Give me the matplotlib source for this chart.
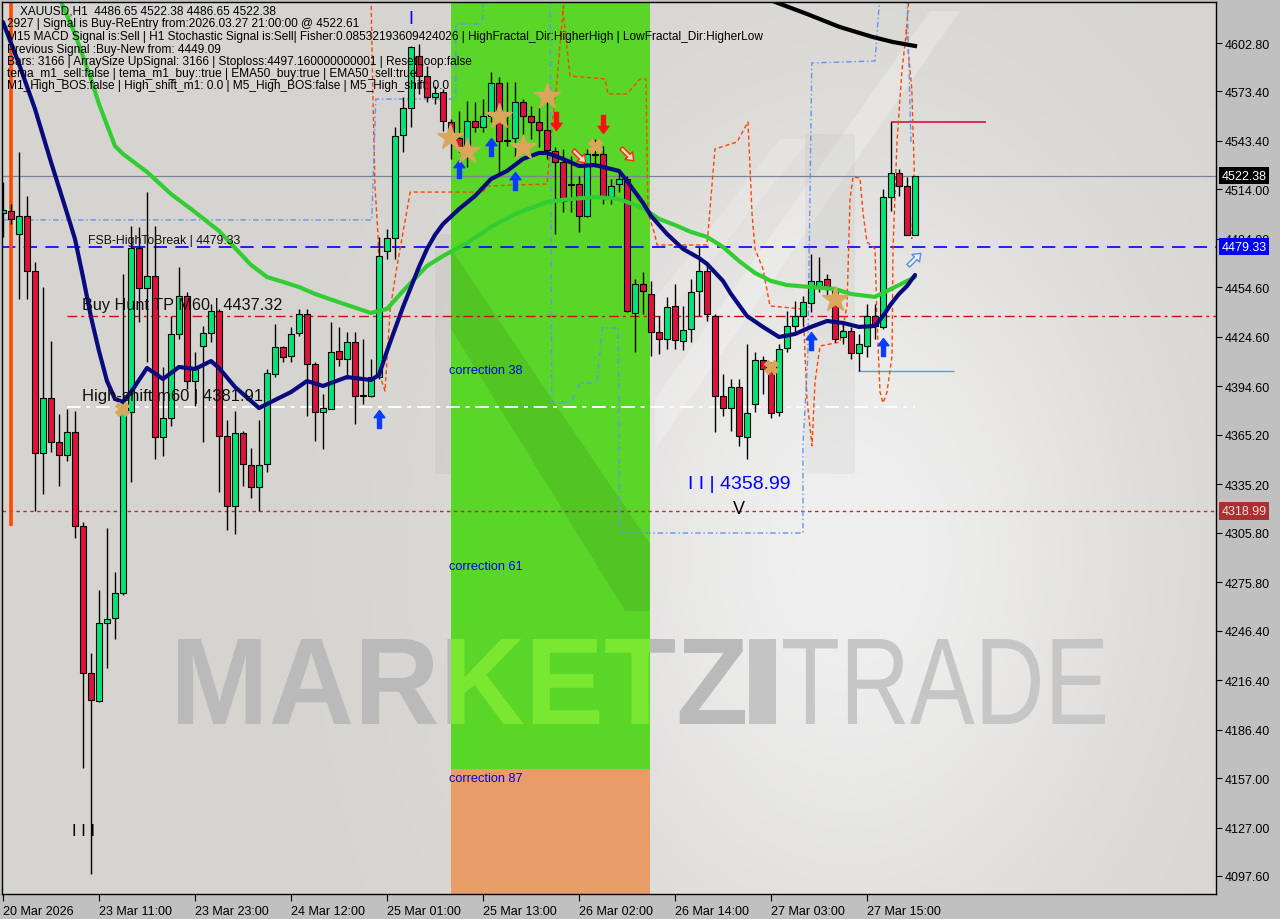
import numpy as np
import matplotlib
matplotlib.use("Agg")
import matplotlib.pyplot as plt
from matplotlib.path import Path
from matplotlib.patches import Rectangle, Polygon, PathPatch
from matplotlib.textpath import TextPath
from matplotlib.font_manager import FontProperties
from matplotlib.transforms import Affine2D

# ---------------- data ----------------
opens = [4499.7, 4500.9, 4487.0, 4497.9, 4464.5, 4354.1, 4387.5, 4360.8, 4352.9, 4366.9,
         4309.9, 4220.7, 4203.7, 4251.0, 4254.1, 4269.2, 4379.0, 4478.5, 4454.2, 4461.5,
         4363.9, 4375.4, 4426.3, 4449.4, 4397.8, 4419.0, 4426.9, 4440.3, 4364.5, 4322.0,
         4366.3, 4346.9, 4333.5, 4347.5, 4402.1, 4418.4, 4413.0, 4426.9, 4438.5, 4408.1,
         4379.0, 4380.8, 4416.0, 4411.2, 4421.5, 4388.7, 4388.7, 4400.2, 4476.7, 4484.5,
         4547.0, 4563.4, 4594.9, 4582.8, 4570.1, 4573.1, 4554.9, 4545.2, 4539.1, 4555.5,
         4551.9, 4558.5, 4578.6, 4543.4, 4545.2, 4567.0, 4558.5, 4554.9, 4550.0, 4537.3,
         4530.6, 4517.3, 4517.3, 4497.9, 4535.5, 4535.5, 4509.4, 4517.3, 4520.3, 4439.1,
         4456.6, 4450.6, 4427.5, 4423.3, 4443.3, 4422.1, 4429.4, 4452.4, 4464.5, 4437.2,
         4388.7, 4381.4, 4394.2, 4363.9, 4383.9, 4410.6, 4406.3, 4379.0, 4417.8, 4431.2,
         4437.2, 4445.1, 4455.4, 4459.7, 4452.4, 4424.5, 4428.1, 4414.8, 4419.0, 4437.2,
         4430.6, 4509.4, 4524.0, 4516.1, 4486.65]
highs = [4518.5, 4505.2, 4536.7, 4510.0, 4470.0, 4454.8, 4422.1, 4377.8, 4380.8, 4379.6,
         4312.0, 4232.8, 4271.1, 4308.7, 4282.0, 4462.7, 4491.8, 4491.2, 4512.4, 4491.8,
         4406.3, 4437.2, 4467.0, 4451.8, 4415.4, 4431.2, 4444.5, 4441.5, 4374.2, 4379.6,
         4367.5, 4357.2, 4374.2, 4405.1, 4432.4, 4419.0, 4430.6, 4441.5, 4441.5, 4409.3,
         4389.9, 4433.6, 4430.6, 4427.5, 4427.5, 4423.3, 4411.2, 4485.2, 4490.0, 4551.9,
         4570.1, 4601.0, 4602.2, 4588.9, 4576.7, 4574.9, 4556.7, 4561.6, 4567.6, 4567.0,
         4568.9, 4585.2, 4582.2, 4579.2, 4579.2, 4568.9, 4564.6, 4563.4, 4570.1, 4539.7,
         4538.5, 4534.3, 4522.1, 4538.5, 4544.6, 4540.3, 4520.3, 4526.4, 4522.1, 4459.7,
         4463.9, 4458.5, 4437.2, 4448.8, 4456.6, 4443.3, 4459.7, 4479.1, 4470.0, 4438.5,
         4402.1, 4399.0, 4399.0, 4420.3, 4415.4, 4413.0, 4409.3, 4420.3, 4440.3, 4446.3,
         4449.4, 4474.8, 4473.0, 4462.7, 4454.8, 4434.2, 4430.6, 4426.3, 4444.5, 4444.5,
         4514.3, 4554.9, 4526.4, 4521.5, 4522.38]
lows = [4485.2, 4493.0, 4447.6, 4447.6, 4319.0, 4329.3, 4354.8, 4334.1, 4349.3, 4302.6,
        4163.1, 4098.8, 4203.1, 4223.8, 4241.3, 4268.0, 4336.6, 4433.6, 4409.3, 4350.5,
        4352.3, 4370.5, 4423.3, 4393.0, 4382.7, 4360.8, 4421.5, 4330.5, 4307.4, 4305.0,
        4334.1, 4326.9, 4319.0, 4342.6, 4400.2, 4409.3, 4409.3, 4425.1, 4376.6, 4361.4,
        4356.6, 4380.8, 4406.9, 4399.0, 4371.7, 4383.9, 4388.1, 4399.0, 4471.8, 4471.8,
        4536.7, 4551.9, 4571.9, 4567.0, 4565.8, 4549.4, 4532.5, 4536.7, 4527.6, 4548.8,
        4548.8, 4554.9, 4524.6, 4540.3, 4533.7, 4545.8, 4544.6, 4539.7, 4532.5, 4487.0,
        4500.3, 4500.3, 4488.2, 4497.3, 4527.6, 4505.2, 4505.2, 4512.4, 4439.7, 4415.4,
        4438.5, 4413.0, 4414.2, 4417.2, 4417.2, 4416.6, 4421.5, 4437.2, 4434.2, 4366.9,
        4376.6, 4367.5, 4358.4, 4350.5, 4379.0, 4389.9, 4375.4, 4376.6, 4415.4, 4427.5,
        4431.2, 4439.7, 4451.8, 4447.6, 4421.5, 4420.3, 4411.2, 4403.9, 4412.4, 4423.3,
        4429.4, 4500.9, 4510.0, 4486.4, 4486.65]
closes = [4501.5, 4496.1, 4497.9, 4464.5, 4354.1, 4387.5, 4360.8, 4352.9, 4366.9, 4309.9,
          4220.7, 4204.3, 4251.0, 4253.5, 4269.2, 4379.6, 4478.5, 4454.2, 4461.5, 4363.9,
          4375.4, 4426.3, 4449.4, 4397.8, 4406.3, 4426.9, 4440.3, 4364.5, 4322.0, 4366.3,
          4347.5, 4333.5, 4346.9, 4402.7, 4418.4, 4412.4, 4426.3, 4438.5, 4408.1, 4379.0,
          4381.4, 4415.4, 4411.2, 4421.5, 4388.7, 4389.3, 4400.2, 4473.6, 4484.5, 4546.4,
          4563.4, 4600.4, 4582.8, 4570.1, 4572.5, 4555.5, 4545.2, 4539.1, 4555.5, 4551.9,
          4558.5, 4578.6, 4543.4, 4544.0, 4567.0, 4558.5, 4554.9, 4550.0, 4537.9, 4530.6,
          4507.0, 4516.8, 4497.9, 4535.5, 4535.0, 4509.4, 4516.1, 4520.3, 4440.3, 4456.6,
          4452.4, 4427.5, 4423.3, 4442.7, 4422.7, 4428.7, 4451.8, 4464.5, 4438.5, 4388.7,
          4381.4, 4394.2, 4364.5, 4378.4, 4410.6, 4405.1, 4378.4, 4417.2, 4431.2, 4437.2,
          4445.7, 4458.5, 4458.5, 4453.6, 4423.3, 4428.1, 4414.8, 4420.3, 4437.2, 4431.2,
          4509.4, 4524.0, 4516.1, 4486.65, 4522.38]

# fast MA (navy)
navy_idx = [0, 2, 4, 6, 8, 9, 10, 11, 12, 13, 14, 15, 16, 18, 20, 22, 24, 26, 27, 29,
            31, 32, 34, 36, 38, 40, 41, 43, 45, 46, 47, 48, 49, 50, 51, 52, 53, 54, 55, 57,
            59, 61, 63, 65, 67, 68, 70, 72, 74, 77, 78, 80, 81, 83, 85, 87, 88, 90, 91, 93,
            95, 97, 99, 101, 103, 105, 107, 109, 110, 111, 112, 113, 114]
navy_val = [4615.5, 4590.1, 4562.8, 4530.6, 4499.7, 4483.9, 4460.9, 4436.6, 4416.0, 4397.8,
            4386.9, 4385.1, 4391.1, 4405.7, 4399.0, 4406.3, 4405.1, 4409.9, 4405.7, 4394.2,
            4385.7, 4381.4, 4386.3, 4391.1, 4397.8, 4394.8, 4396.6, 4400.2, 4399.0, 4398.4,
            4401.5, 4416.0, 4429.4, 4442.7, 4454.8, 4467.0, 4477.9, 4486.4, 4493.0, 4502.1,
            4510.0, 4520.3, 4525.2, 4532.5, 4536.1, 4536.1, 4532.5, 4528.2, 4528.8, 4525.2,
            4519.1, 4505.8, 4497.9, 4487.0, 4477.9, 4472.4, 4468.8, 4458.5, 4450.6, 4437.2,
            4430.6, 4424.5, 4426.3, 4430.6, 4434.2, 4433.0, 4430.6, 4431.2, 4437.2, 4444.5,
            4450.6, 4455.4, 4462.1]
# slow MA (green)
green_idx = [7, 9, 11, 12, 14, 15, 18, 21, 24, 27, 29, 31, 33, 35, 37, 39, 43, 46, 48, 50,
             53, 55, 58, 61, 64, 68, 71, 74, 77, 80, 82, 84, 86, 88, 90, 92, 94, 96, 98, 101,
             104, 106, 109, 110, 112, 114]
green_val = [4630.7, 4608.3, 4581.0, 4565.8, 4540.3, 4535.5, 4524.6, 4511.2, 4500.3, 4488.8,
             4478.5, 4468.2, 4460.9, 4457.9, 4454.8, 4450.6, 4443.9, 4439.1, 4441.5, 4452.4,
             4467.6, 4473.6, 4481.5, 4491.2, 4499.1, 4506.4, 4508.2, 4509.4, 4508.2, 4502.7,
             4496.1, 4492.4, 4488.2, 4485.2, 4479.1, 4470.6, 4463.3, 4458.5, 4456.0, 4454.8,
             4453.6, 4450.6, 4448.8, 4451.2, 4456.0, 4460.9]
# long MA (black)
black_idx = [95, 96.5, 100.5, 104.6, 108.75, 111.25, 114]
black_val = [4631.3, 4627.7, 4620.4, 4612.5, 4606.4, 4603.4, 4601.0]

# orange dashed envelope traces
orange1_idx = [46, 46.25, 46.5, 46.9, 47.25, 47.75, 48.4, 49.25, 50.9, 60, 60.5, 68, 68.75, 69.25, 70, 70.25]
orange1_val = [4630.7, 4568.8, 4516.1, 4483.9, 4399.0, 4391.7, 4441.5, 4467.5, 4512.4, 4512.4,
               4516.1, 4517.3, 4557.9, 4579.7, 4622.8, 4630.7]
orange2_idx = [70, 70.875, 75.25, 75.625, 78, 79.625, 80.375, 80.625, 81.5, 81.75, 88, 88.375, 89,
               91.75, 93.125, 93.625, 94, 95, 95.875, 100, 100.5, 101.125, 101.5, 102.125, 104.625,
               105.5, 105.875, 106.25, 107.125, 107.5, 108, 109, 109.25, 109.625, 110, 110.5,
               111.125, 111.25, 111.75, 112.375, 112.875, 113.25]
orange2_val = [4622.8, 4582.8, 4581.0, 4571.9, 4571.9, 4581.0, 4581.0, 4499.7, 4486.4, 4480.3,
               4480.3, 4502.1, 4538.5, 4542.8, 4554.9, 4499.7, 4477.9, 4465.7, 4443.3, 4441.5,
               4386.9, 4358.4, 4397.2, 4419.0, 4421.5, 4443.3, 4508.2, 4521.5, 4520.9, 4499.7,
               4482.1, 4477.9, 4434.8, 4391.1, 4384.5, 4391.1, 4413.0, 4477.9, 4542.8, 4586.4,
               4607.7, 4630.7]
orange3_idx = [112.9, 113.6, 113.9, 113.6]
orange3_val = [4611.3, 4574.9, 4526.4, 4483.9]

# light-blue step traces
blue1_idx = [0, 46.1, 46.6, 56.6, 56.6, 59.9, 60.1]
blue1_val = [4495.5, 4495.5, 4568.8, 4568.8, 4614.3, 4614.3, 4631.0]
blue2_idx = [68.4, 68.6, 71.1, 72.1, 74.25, 74.9, 76.9, 77.1, 100, 100, 100.6, 101.1, 109, 109.6]
blue2_val = [4631.0, 4385.1, 4385.1, 4396.6, 4396.6, 4430.0, 4430.0, 4305.6, 4305.6, 4359.0,
             4413.0, 4590.7, 4591.9, 4631.0]
blue3_idx = [113, 113.5]
blue3_val = [4631.0, 4542.8]

# levels
level_current = 4522.38
level_fsb = 4479.33
level_low = 4318.99
level_tp = 4437.32
level_hshift = 4381.91
level_box_top = 4554.9
level_box_low = 4403.9
correction_87 = 4162.5

# signals
buy_arrow_idx = [47, 57, 61, 64, 101, 110]
buy_arrow_val = [4374.8, 4526.4, 4539.7, 4519.1, 4422.1, 4418.4]
sell_arrow_idx = [69.1, 75]
sell_arrow_val = [4555.5, 4553.7]
hollow_sell_idx = [72, 78]
hollow_sell_val = [4534.3, 4535.5]
hollow_buy_idx = [113.9]
hollow_buy_val = [4471.8]
star_idx = [55.9, 58, 62, 65, 68, 104]
star_val = [4545.8, 4537.3, 4558.5, 4539.7, 4570.7, 4447.5]
cross_idx = [74, 96, 14.9]
cross_val = [4540.3, 4406.3, 4380.8]

price_ticks = [4602.80, 4573.40, 4543.40, 4514.00, 4484.00, 4454.60, 4424.60, 4394.60, 4365.20,
               4335.20, 4305.80, 4275.80, 4246.40, 4216.40, 4186.40, 4157.00, 4127.00, 4097.60]
time_tick_idx = [0, 12, 24, 36, 48, 60, 72, 84, 96, 108]
time_tick_labels = ["20 Mar 2026", "23 Mar 11:00", "23 Mar 23:00", "24 Mar 12:00", "25 Mar 01:00",
                    "25 Mar 13:00", "26 Mar 02:00", "26 Mar 14:00", "27 Mar 03:00", "27 Mar 15:00"]

header_lines = [
    "XAUUSD,H1  4486.65 4522.38 4486.65 4522.38",
    "2927 | Signal is Buy-ReEntry from:2026.03.27 21:00:00 @ 4522.61",
    "M15 MACD Signal is:Sell | H1 Stochastic Signal is:Sell| Fisher:0.08532193609424026 | HighFractal_Dir:HigherHigh | LowFractal_Dir:HigherLow",
    "Previous Signal :Buy-New from: 4449.09",
    "Bars: 3166 | ArraySize UpSignal: 3166 | Stoploss:4497.160000000001 | ResetLoop:false",
    "tema_m1_sell:false | tema_m1_buy::true | EMA50_buy:true | EMA50_sell:true",
    "M1_High_BOS:false | High_shift_m1: 0.0 | M5_High_BOS:false | M5_High_shift: 0.0",
]

# ---------------- figure ----------------
W, H = 1280, 920
fig = plt.figure(figsize=(12.8, 9.2), dpi=100, facecolor='#c0c0c0')
L, R, T, B = 2, 1216, 3, 895
ax = fig.add_axes([L / W, (H - B) / H, (R - L) / W, (B - T) / H])
XMIN, XMAX = -0.125, 151.625
YMIN, YMAX = 4086.68, 4627.67
FONT = 'Liberation Sans'


def pa(x, y):
    """pixel -> axes fraction"""
    return ((x - L) / (R - L), (B - y) / (B - T))


# background gradient
nx, ny = 160, 120
u = np.linspace(0, 1, nx)[None, :]
v = np.linspace(0, 1, ny)[:, None]
g = np.exp(-((u - 0.70) ** 2 / 0.06 + (v - 0.62) ** 2 / 0.22))
base = np.array([214, 212, 208]) / 255.0
hi = np.array([240, 240, 240]) / 255.0
img = base[None, None, :] + (hi - base)[None, None, :] * g[:, :, None]
ax.imshow(img, extent=[XMIN, XMAX, YMIN, YMAX], aspect='auto', zorder=0, interpolation='bicubic')

# decorative logo shapes
for poly, col, a in [
    ([(655, 450), (655, 400), (930, 12), (960, 12)], 'white', 0.25),
    ([(655, 330), (655, 300), (780, 140), (810, 140)], 'white', 0.18),
    ([(805, 135), (855, 135), (855, 475), (805, 475)], 'black', 0.035),
    ([(435, 235), (451, 235), (451, 475), (435, 475)], 'black', 0.035),
]:
    ax.add_patch(Polygon([pa(x, y) for x, y in poly], closed=True, transform=ax.transAxes,
                         fc=col, ec='none', alpha=a, zorder=1))


def word(s, x0, x1, y0, y1, weight, color, z, clip=None):
    fp = FontProperties(family=FONT, weight=weight)
    tp = TextPath((0, 0), s, size=100, prop=fp)
    bb = tp.get_extents()
    fx0, fy0 = pa(x0, y1)
    fx1, fy1 = pa(x1, y0)
    tr = Affine2D().translate(-bb.x0, -bb.y0).scale((fx1 - fx0) / bb.width, (fy1 - fy0) / bb.height) \
        .translate(fx0, fy0) + ax.transAxes
    p = PathPatch(tp, transform=tr, fc=color, ec='none', zorder=z)
    ax.add_patch(p)
    if clip is not None:
        p.set_clip_path(clip)
    return p


# grey watermark
word("MARKETZ", 178, 745, 640, 725, 'bold', '#bababa', 1.5)
ax.add_patch(Polygon([pa(x, y) for x, y in [(749, 640), (776, 640), (776, 725), (749, 725)]],
                     transform=ax.transAxes, fc='#c4c4c4', ec='none', zorder=1.5))
word("TRADE", 783, 1105, 640, 725, 'normal', '#c6c6c6', 1.5)

# correction zone
green_rect = Rectangle((56.0, correction_87), 24.875, YMAX - correction_87 + 2, fc='#5ad628', ec='none', zorder=2)
ax.add_patch(green_rect)
ax.add_patch(Rectangle((56.0, YMIN - 2), 24.875, correction_87 - YMIN + 2, fc='#e89c68', ec='none', zorder=2))
band = Polygon([pa(x, y) for x, y in [(451, 250), (451, 330), (625, 612), (650, 612), (650, 545)]],
               transform=ax.transAxes, fc='black', ec='none', alpha=0.08, zorder=2.2)
ax.add_patch(band)
wm2 = word("MARKETZ", 178, 745, 640, 725, 'bold', '#7ae830', 2.4, clip=green_rect)

# levels
ax.axhline(level_current, color='#7a8494', lw=0.9, zorder=3)
ax.axhline(level_fsb, color='#0000ff', lw=1.2, dashes=(8, 5), zorder=3)
ax.axhline(level_low, color='#b03030', lw=1.0, dashes=(2.5, 2.5), zorder=3)
ax.hlines(level_tp, 8, XMAX, colors='#c81010', lw=1.0, linestyles=(0, (7, 3, 2, 3)), zorder=3)
ax.hlines(level_hshift, 8, 114, colors='white', lw=1.4, linestyles=(0, (7, 3, 2, 3)), zorder=3)
ax.hlines(level_box_top, 111, 122.9, colors='#d8143c', lw=1.2, zorder=3)
ax.hlines(level_box_low, 106.9, 118.9, colors='#6495ed', lw=1.0, zorder=3)
ax.vlines(1, 4309.9, YMAX + 5, colors='#ff4a00', lw=2.6, zorder=3)

# dashed traces
for xi, yv in [(orange1_idx, orange1_val), (orange2_idx, orange2_val), (orange3_idx, orange3_val)]:
    ax.plot(xi, yv, color='#ff4500', lw=1.0, dashes=(3, 2), zorder=4)
for xi, yv in [(blue1_idx, blue1_val), (blue2_idx, blue2_val), (blue3_idx, blue3_val)]:
    ax.plot(xi, yv, color='#6495ed', lw=1.0, dashes=(4, 2, 1, 2), zorder=4)

# candles
o = np.array(opens); c = np.array(closes); h = np.array(highs); l = np.array(lows)
idx = np.arange(len(o))
up = c >= o
ax.vlines(idx, l, h, colors='black', lw=1.0, zorder=6)
bot = np.minimum(o, c)
hgt = np.maximum(np.abs(c - o), 0.5)
ax.bar(idx[up], hgt[up], bottom=bot[up], width=0.72, color='#00e676', edgecolor='black', lw=0.8, zorder=7)
ax.bar(idx[~up], hgt[~up], bottom=bot[~up], width=0.72, color='#dc143c', edgecolor='black', lw=0.8, zorder=7)

# moving averages
ax.plot(green_idx, green_val, color='#32cd32', lw=3.0, zorder=8, solid_capstyle='round')
ax.plot(navy_idx, navy_val, color='#0a0a80', lw=3.0, zorder=8.5, solid_capstyle='round')
ax.plot(black_idx, black_val, color='black', lw=3.0, zorder=8.5)

# markers
arrow = Path([(0, 1), (0.6, 0.2), (0.22, 0.2), (0.22, -1), (-0.22, -1), (-0.22, 0.2), (-0.6, 0.2), (0, 1)],
             [Path.MOVETO] + [Path.LINETO] * 6 + [Path.CLOSEPOLY])
down = Affine2D().scale(1, -1).transform_path(arrow)
diag_dn = Affine2D().rotate_deg(-135).transform_path(arrow)
diag_up = Affine2D().rotate_deg(-45).transform_path(arrow)
ax.plot(buy_arrow_idx, buy_arrow_val, ls='none', marker=arrow, ms=13, mfc='#0a3cff', mec='#0a3cff', zorder=9)
ax.plot(sell_arrow_idx, sell_arrow_val, ls='none', marker=down, ms=13, mfc='#ff1010', mec='#ff1010', zorder=9)
ax.plot(hollow_sell_idx, hollow_sell_val, ls='none', marker=diag_dn, ms=11, mfc='#f3d9c8', mec='#ff2a00', mew=1.0, zorder=9)
ax.plot(hollow_buy_idx, hollow_buy_val, ls='none', marker=diag_up, ms=11, mfc='#e8f0ff', mec='#5a8ee8', mew=1.0, zorder=9)
ax.plot(star_idx, star_val, ls='none', marker='*', ms=19, mfc='#d9a65c', mec='#d9a65c', zorder=9)
ax.plot(cross_idx, cross_val, ls='none', marker='X', ms=10, mfc='#d9a65c', mec='#d9a65c', zorder=9)

# in-chart labels
def dtext(xi, yv, s, **kw):
    kw.setdefault('zorder', 10)
    kw.setdefault('family', FONT)
    ax.text(xi, yv, s, va='center', ha='left', **kw)

dtext(10.6, 4483.3, "FSB-HighToBreak | 4479.33", fontsize=8.8, color='#101010')
dtext(9.9, 4444.5, "Buy Hunt TP M60 | 4437.32", fontsize=11.7, color='#101010')
dtext(9.9, 4389.3, "High-shift m60 | 4381.91", fontsize=12.0, color='#101010')
dtext(55.75, 4404.5, "correction 38", fontsize=9.2, color='#0000ff')
dtext(55.75, 4285.6, "correction 61", fontsize=9.2, color='#0000ff')
dtext(55.75, 4157.0, "correction 87", fontsize=9.2, color='#0000ff')
dtext(85.6, 4335.9, "I I | 4358.99", fontsize=14, color='#0000ff')
dtext(91.2, 4320.2, "V", fontsize=13, color='black')
dtext(8.6, 4124.9, "I I I", fontsize=12, color='black')
dtext(50.7, 4617.4, "I", fontsize=13, color='#0000ff')

# header
ys = [11, 24, 37, 49.5, 62, 74, 86]
for k, (s, yy) in enumerate(zip(header_lines, ys)):
    fig.text((20 if k == 0 else 7) / W, 1 - yy / H, s, fontsize=8.6, family=FONT, color='black',
             va='center', ha='left', zorder=20)

# axes styling
ax.set_xlim(XMIN, XMAX)
ax.set_ylim(YMIN, YMAX)
for sp in ax.spines.values():
    sp.set_color('black'); sp.set_linewidth(1.0); sp.set_zorder(12)
ax.yaxis.tick_right()
ax.set_yticks(price_ticks)
ax.set_yticklabels([f"{p:.2f}" for p in price_ticks])
ax.tick_params(axis='y', direction='out', length=4, width=0.8, pad=2, labelsize=9, colors='black')
ax.set_xticks(time_tick_idx)
ax.set_xticklabels(time_tick_labels)
ax.tick_params(axis='x', direction='out', length=5, width=0.8, pad=3, labelsize=9, colors='black')
for lab in ax.get_xticklabels():
    lab.set_ha('left'); lab.set_family(FONT)
for lab in ax.get_yticklabels():
    lab.set_family(FONT)

# price boxes on axis
for val, fc, tc in [(level_current, 'black', 'white'), (level_fsb, '#0000ff', 'white'), (level_low, '#a83232', '#f4dada')]:
    ax.text(1.0045, val, f"{val:.2f}", transform=ax.get_yaxis_transform(), ha='left', va='center',
            fontsize=9, family=FONT, color=tc, clip_on=False, zorder=15,
            bbox=dict(boxstyle='square,pad=0.22', fc=fc, ec='none'))

fig.savefig('out.png', dpi=100, facecolor=fig.get_facecolor())
